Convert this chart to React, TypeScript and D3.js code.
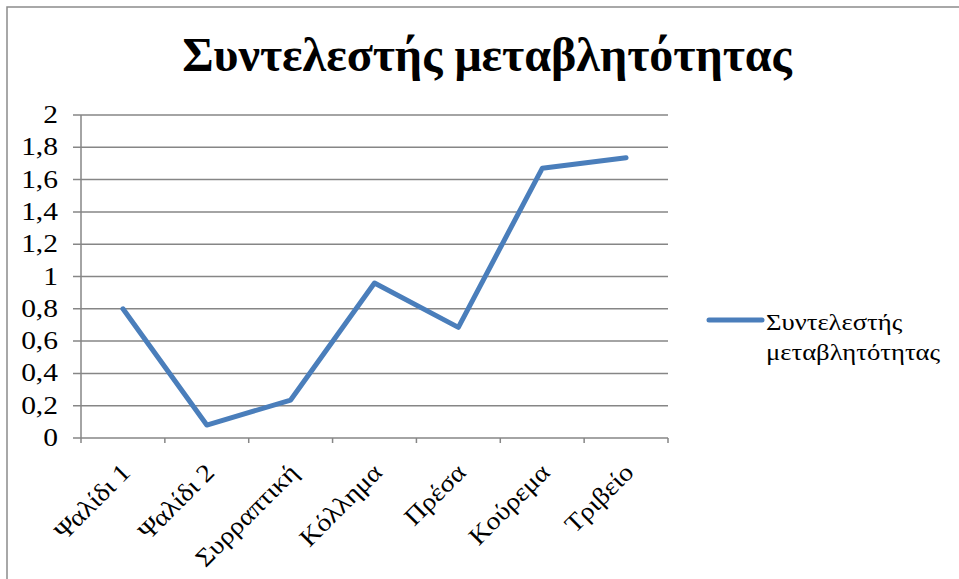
import React from "react";
import * as d3 from "d3";

const categories = ["Ψαλίδι 1", "Ψαλίδι 2", "Συρραπτική", "Κόλλημα", "Πρέσα", "Κούρεμα", "Τριβείο"];
const values = [0.8, 0.08, 0.235, 0.96, 0.685, 1.67, 1.735];
const yTicks = [0, 0.2, 0.4, 0.6, 0.8, 1, 1.2, 1.4, 1.6, 1.8, 2];
const title = "Συντελεστής μεταβλητότητας";
const legendLines = ["Συντελεστής", "μεταβλητότητας"];

const W = 959;
const H = 579;
const lineColor = "#4A7EBB";
const gridColor = "#868686";
const SX = 1.11;
const SXY = 1.18;

export default function App() {
  const x0 = 81, x1 = 668, yTop = 115, yBot = 438;
  const x = d3.scaleBand<string>().domain(categories).range([x0, x1]);
  const y = d3.scaleLinear().domain([0, 2]).range([yBot, yTop]);
  const line = d3
    .line<number>()
    .x((_, i) => (x(categories[i]) as number) + x.bandwidth() / 2)
    .y((d) => y(d));
  const fmt = (v: number) => String(+v.toFixed(1)).replace(".", ",");
  const tickXs = [...categories.map((c) => x(c) as number), x1];
  const txt = (size: number): React.CSSProperties => ({ fontFamily: "Liberation Serif", fontSize: size });

  return (
    <svg width={W} height={H} style={{ position: "absolute", left: 0, top: 0 }}>
      <rect x={7} y={7} width={W + 10} height={H + 10} fill="#fff" stroke="#8c8c8c" strokeWidth={1.5} />
      <text x={487} y={71} textAnchor="middle" style={{ fontFamily: "Liberation Serif", fontSize: 48, fontWeight: "bold" }}>
        {title}
      </text>
      {yTicks.map((t) => (
        <g key={t}>
          <line x1={73} x2={x1} y1={y(t)} y2={y(t)} stroke={gridColor} strokeWidth={1.5} />
          <text
            x={0}
            y={0}
            textAnchor="end"
            transform={`translate(58 ${y(t) + 8}) scale(${SXY} 1)`}
            style={txt(25)}
          >
            {fmt(t)}
          </text>
        </g>
      ))}
      <line x1={x0} x2={x0} y1={yTop} y2={yBot} stroke={gridColor} strokeWidth={1.5} />
      {tickXs.map((tx, i) => (
        <line key={i} x1={tx} x2={tx} y1={yBot} y2={yBot + 5} stroke={gridColor} strokeWidth={1.5} />
      ))}
      {categories.map((c) => {
        const cx = (x(c) as number) + x.bandwidth() / 2;
        const ax = cx + 9;
        const ay = 474;
        return (
          <text
            key={c}
            x={0}
            y={0}
            textAnchor="end"
            transform={`translate(${ax} ${ay}) rotate(-45) scale(${SX} 1)`}
            style={txt(25)}
          >
            {c}
          </text>
        );
      })}
      <path d={line(values) || ""} fill="none" stroke={lineColor} strokeWidth={5} strokeLinejoin="round" strokeLinecap="round" />
      <line x1={709} x2={762} y1={320} y2={320} stroke={lineColor} strokeWidth={5} strokeLinecap="round" />
      {legendLines.map((l, i) => (
        <text key={i} x={0} y={0} transform={`translate(766 ${330 + i * 30}) scale(${SX} 1)`} style={txt(24)}>
          {l}
        </text>
      ))}
    </svg>
  );
}
